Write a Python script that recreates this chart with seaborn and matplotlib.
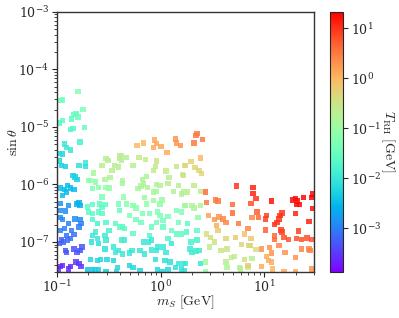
import numpy as np
import pandas as pd
import matplotlib
matplotlib.use("Agg")
import matplotlib.pyplot as plt
import matplotlib.cm as cm
from matplotlib.colors import LogNorm
import seaborn as sns

# log10 values
log_mS = [
    -0.80, -0.97, -0.95, -0.75, -0.84, -0.82, -0.86, -0.80, -0.98, -0.95, -0.87, -0.85, -0.74, -0.78,
    -0.93, -0.91, -0.87, -0.98, -0.95, -0.98, -0.96, -0.92, -0.79, -0.73, -0.73, -0.85, -0.83, -0.81,
    -0.57, -0.53, -0.51, -0.47, -0.45, -0.40, -0.40, -0.41, -0.49, -0.54, -0.65, -0.68,
    -0.23, -0.17, -0.06, -0.04, 0.00, -0.07, 0.06, 0.14, 0.15, 0.19,
    -0.38, -0.33, -0.38, -0.27, -0.21, -0.15, -0.04, -0.05, -0.07, 0.05, 0.15, 0.21, 0.23, 0.08, -0.14, -0.18, -0.37,
    0.35, 0.34, 0.40, 0.32, 0.38, 0.29, 0.24, 0.33, 0.37, 0.39, 0.22,
    -0.90, -0.87, -0.93, -0.97, -0.91, -0.84, -0.95,
    -0.70, -0.63, -0.53, -0.50, -0.60, -0.66, -0.57,
    -0.97, -0.89, -0.81, -0.79, -0.78,
    -0.71, -0.66, -0.59, -0.57, -0.54, -0.70, -0.60, -0.57, -0.66, -0.41, -0.40,
    -0.97, -0.92,
    -0.97, -0.95, -0.83, -0.78, -0.77, -0.79, -0.89, -0.93, -0.97, -0.86, -0.84, -0.91, -0.87, -0.96, -0.94, -0.98, -0.90,
    -0.66, -0.61, -0.53, -0.44, -0.40, -0.50, -0.54, -0.63, -0.66, -0.61, -0.60, -0.67, -0.53, -0.46, -0.41, -0.44, -0.54,
    -0.92, -0.91, -0.84, -0.81, -0.78, -0.76,
    -0.97, -0.95, -0.99, -0.89, -0.82, -0.79, -0.77, -0.87,
    -0.68, -0.61, -0.58, -0.52, -0.46, -0.71, -0.66, -0.63, -0.60, -0.53, -0.42, -0.43,
    -0.37, -0.17, -0.19, -0.13, -0.04, -0.01, 0.07, 0.17, -0.22, -0.07, -0.04, 0.12, 0.20, 0.22, -0.36, -0.16, -0.07, 0.01, -0.33, -0.27, -0.24, -0.14, -0.01, 0.23,
    -0.30, -0.18, -0.11, -0.03, -0.01, 0.07, 0.15, 0.20, -0.24, -0.19, -0.04, 0.02, 0.17, -0.37, -0.35, -0.27, -0.09, 0.02, 0.10, 0.15, 0.20, 0.07, -0.11,
    -0.38, -0.35, -0.17, -0.12, -0.09, -0.03, -0.04, 0.02, 0.05, 0.10, -0.20, -0.16, -0.28, -0.30, -0.37, -0.09, 0.04, 0.09, 0.17, 0.22, 0.14, -0.05, -0.30, -0.27, -0.20, -0.03, 0.01, 0.07, 0.20, 0.23,
    0.73, 0.43, 0.32, 0.26, 0.38, 0.44, 0.53, 0.55, 0.69, 0.69, 0.24, 0.30, 0.32, 0.38, 0.46, 0.52, 0.56, 0.60, 0.63, 0.75, 0.54, 0.36, 0.26, 0.35, 0.25, 0.29, 0.35, 0.28, 0.30, 0.34, 0.37, 0.38, 0.24,
    0.55, 0.81, 0.72, 0.44, 0.48, 0.52, 0.63, 0.78, 0.85, 0.47, 0.58, 0.64, 0.71, 0.68, 0.63, 0.81, 0.76, 0.64, 0.43, 0.43, 0.77, 0.84,
    0.89, 0.89, 0.92, 0.87, 1.07, 1.27, 1.30, 1.32, 1.31, 1.34, 1.38, 1.46, 1.47, 1.47, 1.30, 1.43,
    0.93, 0.94, 1.02, 1.01, 1.15, 1.17, 1.14, 1.12, 1.10, 1.01, 1.16, 1.17, 1.19, 1.23, 1.31, 1.33, 1.36, 1.41, 1.46, 1.10, 1.10,
    0.88, 0.84, 0.87, 0.86, 0.92, 0.88, 0.84,
    0.97, 1.05, 1.07, 1.14, 1.20, 1.02, 1.04, 1.07, 1.30, 1.36, 1.43, 1.44, 1.08, 1.19, 1.46, 1.30, 0.97,
]

log_sin = [
    -4.39, -4.54, -4.53, -4.70, -4.78, -4.77, -4.86, -4.83, -4.93, -4.89, -5.05, -5.03, -5.01, -5.26,
    -5.30, -5.36, -5.40, -5.46, -5.47, -5.59, -5.67, -5.69, -5.67, -5.63, -5.69, -5.84, -5.87, -5.92,
    -5.67, -5.55, -5.58, -5.76, -5.67, -5.55, -5.50, -5.70, -5.88, -5.92, -5.80, -5.93,
    -5.32, -5.28, -5.23, -5.29, -5.34, -5.36, -5.44, -5.21, -5.28, -5.32,
    -5.50, -5.53, -5.58, -5.67, -5.53, -5.57, -5.59, -5.69, -5.76, -5.77, -5.69, -5.83, -5.67, -5.88, -5.86, -5.92, -5.93,
    -5.12, -5.15, -5.22, -5.28, -5.54, -5.60, -5.67, -5.71, -5.76, -5.81, -5.84,
    -6.02, -6.06, -6.09, -6.06, -6.13, -6.09, -6.19,
    -5.93, -5.96, -6.05, -6.06, -6.05, -6.07, -6.22,
    -6.33, -6.37, -6.34, -6.31, -6.37,
    -6.39, -6.35, -6.34, -6.40, -6.35, -6.48, -6.48, -6.51, -6.51, -6.34, -6.45,
    -6.45, -6.46,
    -6.58, -6.61, -6.60, -6.61, -6.68, -6.74, -6.68, -6.77, -6.80, -6.80, -6.87, -6.89, -6.94, -6.97, -7.00, -7.03, -6.97,
    -6.61, -6.68, -6.66, -6.68, -6.74, -6.80, -6.89, -6.83, -6.89, -6.94, -7.03, -7.00, -6.97, -7.09, -7.15, -7.18, -7.12,
    -7.15, -7.18, -7.12, -7.18, -7.15, -7.09,
    -7.43, -7.41, -7.47, -7.47, -7.35, -7.37, -7.43, -7.43,
    -7.31, -7.32, -7.31, -7.31, -7.32, -7.48, -7.49, -7.48, -7.49, -7.51, -7.45, -7.51,
    -5.98, -5.99, -6.03, -6.05, -6.00, -6.02, -5.98, -6.02, -6.07, -6.13, -6.12, -6.12, -6.17, -6.13, -6.22, -6.23, -6.28, -6.27, -6.34, -6.37, -6.41, -6.34, -6.34, -6.37,
    -6.54, -6.51, -6.51, -6.48, -6.54, -6.56, -6.45, -6.48, -6.61, -6.66, -6.66, -6.63, -6.66, -6.74, -6.77, -6.85, -6.74, -6.74, -6.80, -6.86, -6.86, -6.94, -6.89,
    -6.97, -6.97, -7.00, -7.00, -6.97, -7.09, -7.15, -7.09, -7.18, -7.03, -7.15, -7.21, -7.15, -7.19, -7.21, -7.14, -7.32, -7.35, -7.38, -7.37, -7.45, -7.31, -7.41, -7.45, -7.50, -7.48, -7.51, -7.48, -7.47, -7.50,
    -6.03, -6.13, -6.02, -6.13, -6.12, -6.31, -6.27, -6.29, -6.35, -6.50, -6.37, -6.37, -6.41, -6.37, -6.54, -6.61, -6.57, -6.60, -6.66, -6.68, -6.71, -6.58, -6.68, -6.80, -6.83, -7.00, -6.97, -7.12, -7.18, -7.16, -7.15, -7.38, -7.37,
    -6.80, -6.86, -6.92, -6.86, -6.92, -7.00, -6.94, -7.04, -7.06, -7.09, -7.15, -7.12, -7.25, -7.27, -7.35, -7.31, -7.45, -7.45, -7.35, -7.51, -7.47, -7.45,
    -6.05, -6.16, -6.25, -6.33, -6.29, -6.27, -6.25, -6.29, -6.35, -6.35, -6.23, -6.23, -6.17, -6.42, -6.51, -6.64,
    -6.48, -6.58, -6.54, -6.60, -6.54, -6.50, -6.60, -6.66, -6.70, -6.79, -6.79, -6.83, -6.92, -6.96, -6.94, -6.81, -6.96, -6.93, -6.96, -6.90, -6.96,
    -6.58, -6.77, -6.94, -7.06, -7.13, -7.29, -7.41,
    -7.12, -7.10, -7.19, -7.06, -7.18, -7.25, -7.32, -7.35, -7.27, -7.12, -7.12, -7.15, -7.47, -7.51, -7.47, -7.51, -7.43,
]

log_TRH = [
    -1.2, -1.4, -1.4, -1.3, -1.5, -1.5, -1.6, -1.5, -1.7, -1.6, -1.7, -1.7, -1.5, -1.8,
    -2.0, -2.0, -2.0, -2.2, -2.2, -2.2, -2.3, -2.3, -2.1, -2.0, -2.1, -2.3, -2.3, -2.3,
    -0.7, -0.7, -0.7, -0.7, -0.7, -0.7, -0.7, -0.7, -0.8, -0.8, -0.9, -0.9,
    -0.05, 0.0, 0.15, 0.15, 0.15, 0.1, 0.1, 0.3, 0.3, 0.3,
    -0.7, -0.7, -0.7, -0.7, -0.6, -0.6, -0.5, -0.6, -0.6, -0.6, -0.5, -0.6, -0.5, -0.7, -0.8, -0.8, -0.8,
    0.5, 0.5, 0.5, 0.5, 0.0, -0.3, -0.3, -0.3, -0.3, -0.3, -0.5,
    -2.5, -2.5, -2.5, -2.5, -2.5, -2.5, -2.5,
    -1.2, -1.2, -1.1, -1.1, -1.2, -1.3, -1.3,
    -2.8, -2.8, -2.6, -2.6, -2.6,
    -1.6, -1.6, -1.6, -1.6, -1.6, -1.6, -1.6, -1.6, -1.6, -1.4, -1.5,
    -2.9, -2.9,
    -2.9, -2.9, -2.9, -2.9, -3.0, -3.0, -3.0, -3.0, -3.0, -3.0, -3.1, -3.1, -3.1, -3.2, -3.2, -3.2, -3.1,
    -1.7, -1.8, -1.7, -1.6, -1.6, -1.8, -1.9, -1.9, -2.0, -2.0, -2.1, -2.1, -2.0, -2.0, -2.0, -2.0, -2.1,
    -3.3, -3.3, -3.3, -3.3, -3.3, -3.3,
    -3.6, -3.6, -3.6, -3.6, -3.5, -3.5, -3.5, -3.6,
    -2.2, -2.2, -2.2, -2.2, -2.2, -2.4, -2.4, -2.3, -2.3, -2.3, -2.2, -2.2,
    -0.9, -0.8, -0.8, -0.8, -0.75, -0.75, -0.7, -0.7, -0.9, -0.9, -0.9, -0.8, -0.8, -0.8, -1.1, -1.0, -1.0, -1.0, -1.2, -1.2, -1.2, -1.1, -1.1, -1.1,
    -1.3, -1.3, -1.3, -1.3, -1.3, -1.3, -1.3, -1.3, -1.4, -1.4, -1.4, -1.4, -1.4, -1.6, -1.6, -1.6, -1.5, -1.5, -1.5, -1.6, -1.6, -1.7, -1.7,
    -1.9, -1.9, -2.0, -2.0, -2.0, -2.0, -2.0, -2.0, -2.0, -2.0, -2.0, -2.0, -2.0, -2.0, -2.0, -2.0, -2.1, -2.1, -2.0, -2.0, -2.1, -2.1, -2.2, -2.2, -2.2, -2.2, -2.2, -2.2, -2.1, -2.1,
    1.0, 0.6, -0.6, -0.6, -0.6, 0.5, 0.5, 0.5, 0.6, 0.6, -0.8, -0.8, -0.8, -0.8, 0.2, 0.3, 0.3, 0.4, 0.4, 0.5, 0.1, -1.2, -1.6, -1.6, -1.7, -1.8, -1.8, -1.9, -1.9, -1.9, -1.9, -2.0, -2.0,
    -0.2, -0.1, -0.2, -0.4, -0.4, -0.5, -0.3, -0.3, -0.3, -0.6, -0.5, -0.5, -0.6, -0.6, -0.7, -0.5, -0.7, -0.8, -0.9, -1.0, -0.7, -0.6,
    1.1, 1.1, 1.0, 0.8, 1.2, 1.25, 1.25, 1.25, 1.25, 1.25, 1.3, 1.3, 1.3, 1.2, 1.1, 1.1,
    0.7, 0.6, 0.9, 0.9, 1.0, 1.0, 1.0, 1.0, 1.0, 0.7, 0.9, 0.9, 0.8, 0.8, 0.8, 0.9, 0.8, 0.8, 0.8, 0.6, 0.6,
    0.4, 0.4, -0.2, -0.3, -0.4, -0.7, -0.2,
    0.3, 0.3, 0.3, 0.4, 0.3, 0.1, 0.1, 0.1, 0.3, 0.4, 0.4, 0.4, 0.0, 0.1, 0.3, 0.1, 0.1,
]

x_limits = (0.1, 30)
y_limits = (3e-8, 1e-3)
c_limits = (1.35e-4, 21.4)

sns.set_style("ticks")
plt.rcParams["mathtext.fontset"] = "cm"
plt.rcParams["font.family"] = ["DejaVu Serif"]

df = pd.DataFrame({
    "mS": 10 ** np.array(log_mS),
    "sin": 10 ** np.array(log_sin),
    "T": 10 ** np.array(log_TRH),
})

fig = plt.figure(figsize=(3.99, 3.18), dpi=100)
ax = fig.add_axes([0.1436, 0.1447, 0.643, 0.818])
cax = fig.add_axes([0.827, 0.1447, 0.033, 0.818])
norm = LogNorm(*c_limits)

sns.scatterplot(data=df, x="mS", y="sin", hue="T", hue_norm=norm, palette="rainbow",
                marker="s", s=15, linewidth=0, alpha=0.85, legend=False, ax=ax)
ax.set_xscale("log")
ax.set_yscale("log")
ax.set_xlim(*x_limits)
ax.set_ylim(*y_limits)
ax.set_xlabel(r"$m_S\ [\mathrm{GeV}]$", fontsize=10, labelpad=-1)
ax.set_ylabel(r"$\sin\theta$", fontsize=10, labelpad=-1.5)
ax.tick_params(which="major", labelsize=9, length=3.5, width=0.8)
ax.tick_params(axis="x", which="major", pad=1.5)
ax.tick_params(axis="y", which="major", pad=2.5)
ax.tick_params(which="minor", length=2, width=0.6)
for sp in ax.spines.values():
    sp.set_color("#333333")
    sp.set_linewidth(1.0)

sm = cm.ScalarMappable(norm=norm, cmap="rainbow")
cb = fig.colorbar(sm, cax=cax)
cb.minorticks_off()
cb.ax.tick_params(labelsize=9, length=3.5, width=0.8, pad=2.5)
cb.set_label(r"$T_{\rm RH}\ [\mathrm{GeV}]$", rotation=270, labelpad=11, fontsize=10)

fig.savefig("out.png", dpi=100)
